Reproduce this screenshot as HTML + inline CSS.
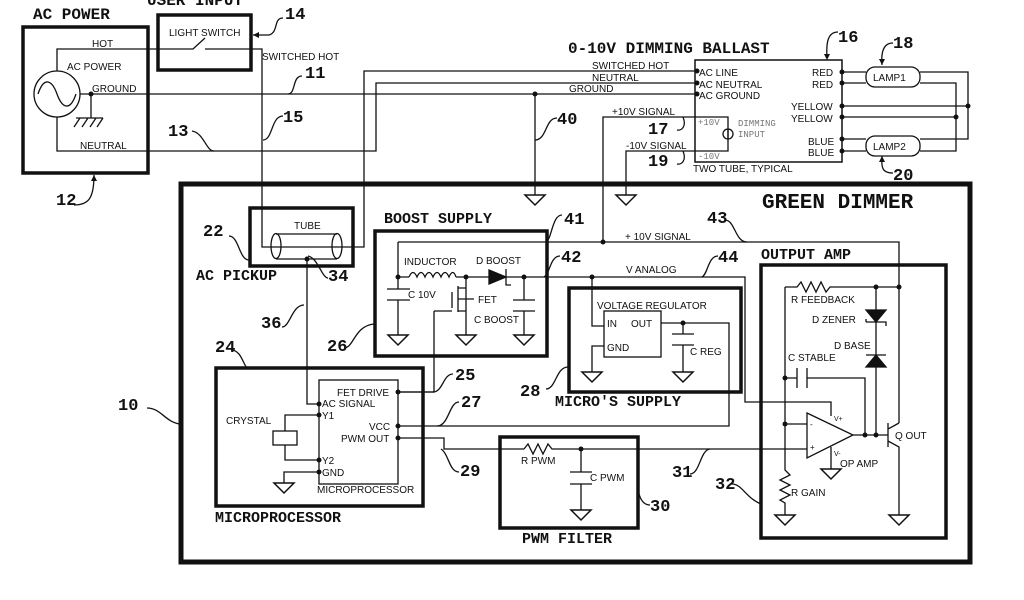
<!DOCTYPE html>
<html><head><meta charset="utf-8"><style>
html,body{margin:0;padding:0;background:#fff}
svg{display:block}
text{font-family:"Liberation Sans",sans-serif;font-size:10px;fill:#111}
.t{font-family:"Liberation Mono",monospace;font-weight:bold;font-size:16px}
.n{font-family:"Liberation Mono",monospace;font-weight:bold;font-size:17px}
.g{font-family:"Liberation Mono",monospace;font-size:9px;fill:#777}
</style></head><body>
<svg width="1024" height="600" viewBox="0 0 1024 600" xmlns="http://www.w3.org/2000/svg">
<defs>
<g id="gnd"><path d="M-10 0 H10 L0 10 Z" fill="#fff" stroke="#111" stroke-width="1.5"/></g>
</defs>
<g fill="none" stroke="#111" stroke-width="1.3">
<!-- boxes -->
<rect x="23" y="27" width="125" height="146" stroke-width="3.5"/>
<rect x="158" y="15" width="93" height="55" stroke-width="3.5"/>
<rect x="181" y="184" width="789" height="378" stroke-width="5"/>
<rect x="250" y="208" width="103" height="58" stroke-width="3.5"/>
<rect x="375" y="231" width="172" height="125" stroke-width="3.5"/>
<rect x="569" y="288" width="172" height="104" stroke-width="3.5"/>
<rect x="216" y="368" width="207" height="138" stroke-width="3.5"/>
<rect x="500" y="437" width="138" height="91" stroke-width="3.5"/>
<rect x="761" y="265" width="185" height="273" stroke-width="3.5"/>
<rect x="695" y="60" width="147" height="102" stroke-width="1.5"/>
<rect x="319" y="380" width="79" height="104"/>
<rect x="604" y="311" width="57" height="46"/>
<!-- AC source -->
<circle cx="57" cy="94" r="23"/>
<path d="M38 94 C44 76 52 80 57 94 C62 108 70 112 76 94"/>
<path d="M57 71 V49 H193 L205 38 M205 49 H262 V247 H364 V71 H697"/>
<path d="M57 117 V151 H376 V83 H697"/>
<path d="M80 94 H697"/>
<path d="M91 94 V118 M76 118 H103 M80 118 l-6 9 M88 118 l-6 9 M96 118 l-6 9 M103 118 l-6 9"/>
<path d="M535 94 V195"/>
<!-- ballast wires -->
<path d="M603 242 V117 H728 V151 H626 V195"/>
<circle cx="728" cy="134" r="5"/>
<path d="M728 129 v10"/>
<path d="M842 72 H866 M842 83 H866 M920 72 H968 V139 H920 M842 106 H968 M920 83 H956 V151 H920 M842 117 H956 M842 139 H866 M842 151 H866"/>
<rect x="866" y="67" width="54" height="20" rx="9"/>
<rect x="866" y="136" width="54" height="20" rx="9"/>
<!-- tube -->
<path d="M276 234 H337 M276 259 H337"/>
<ellipse cx="276" cy="246" rx="5" ry="12.5"/>
<ellipse cx="337" cy="246" rx="5" ry="12.5"/>
<path d="M307 259 V404 H319"/>
<!-- boost -->
<path d="M398 242 H899 V287"/>
<path d="M398 242 V289 M387 289 H410 M387 300 H410 M398 300 V335"/>
<path d="M398 277 H409 M456 277 H489 M506 277 H745 V402 H831 V416"/>
<path d="M409 277 q4 -9 8 0 q4 -9 8 0 q4 -9 8 0 q4 -9 8 0 q4 -9 8 0 q4 -9 7 0"/>
<path d="M489 270 L506 277 L489 284 Z" fill="#111"/>
<path d="M506 269 V285 H511"/>
<path d="M466 277 V335 M466 288 H458 M458 286 V312 M452 292 V308 M434 311 V392 H398 M434 311 H452 M458 299 H474 M466 311 H458"/>
<path d="M524 277 V300 M513 300 H535 M513 311 H535 M524 311 V335"/>
<!-- regulator -->
<path d="M592 277 V326 H604 M604 346 H592 V372 M661 323 H729 V426 H398 M683 323 V334 M672 334 H694 M672 345 H694 M683 345 V372"/>
<!-- micro -->
<path d="M398 392 H434 M319 415 H285 V431 M285 445 V460 H319 M319 472 H284 V493"/>
<rect x="273" y="431" width="24" height="14"/>
<path d="M398 438 H444 V449 H524 M524 449 l4 -5 l5 10 l5 -10 l5 10 l5 -10 l4 5 H807"/>
<path d="M581 449 V472 M570 472 H592 M570 484 H592 M581 484 V510"/>
<!-- output amp -->
<path d="M785 287 H797 l4 -5 l5 10 l5 -10 l5 10 l5 -10 l5 10 l4 -5 H899 V423"/>
<path d="M785 287 V470 l5 5 l-10 5 l10 5 l-10 5 l10 5 l-10 5 l5 3 V516"/>
<path d="M785 378 H797 M797 368 V388 M807 368 V388 M807 378 H865 V435"/>
<path d="M785 424 H807"/>
<path d="M807 413 L853 435 L807 458 Z" fill="#fff"/>
<path d="M831 447 V478 M853 435 H888 M888 423 V447 M888 429 L899 423 M888 441 L899 447 V516"/>
<path d="M876 287 V435"/>
<path d="M866 310 H886 L876 322 Z" fill="#111"/>
<path d="M866 322 H886 v4 M866 322 v-3"/>
<path d="M876 355 L886 367 H866 Z" fill="#111"/>
<path d="M866 355 H886"/>
<!-- leader curves -->
<path d="M283 18 c-10 0 -4 14 -14 17 H253" />
<path d="M302 76 c-10 0 -6 18 -14 18"/>
<path d="M192 131 c12 2 14 20 22 20"/>
<path d="M283 116 c-12 0 -10 24 -20 24"/>
<path d="M557 118 c-12 0 -10 22 -22 22"/>
<path d="M838 32 c-10 0 -12 10 -11 26"/>
<path d="M893 43 c-10 0 -12 10 -11 22"/>
<path d="M893 173 c-10 0 -12 -4 -11 -17"/>
<path d="M74 205 c14 0 20 -6 20 -30"/>
<path d="M683 117 c4 10 -2 14 -6 13"/>
<path d="M683 151 c4 10 -2 14 -6 13"/>
<path d="M147 408 c14 0 18 14 33 16"/>
<path d="M229 236 c10 0 10 24 20 24"/>
<path d="M328 278 c-6 0 -10 -20 -20 -22"/>
<path d="M282 327 c8 0 10 -22 22 -22"/>
<path d="M231 350 c10 0 12 14 16 18"/>
<path d="M344 348 c10 0 10 -22 30 -24"/>
<path d="M453 374 c-10 0 -10 18 -20 18"/>
<path d="M459 402 c-10 0 -10 24 -22 24"/>
<path d="M459 472 c-10 0 -10 -18 -18 -23"/>
<path d="M546 389 c10 0 10 -22 22 -22"/>
<path d="M650 505 c-10 0 -12 -14 -12 -18"/>
<path d="M690 474 c10 0 10 -24 20 -25"/>
<path d="M732 484 c10 0 14 14 29 20"/>
<path d="M562 215 c-10 0 -10 24 -16 27"/>
<path d="M560 256 c-10 0 -10 18 -16 21"/>
<path d="M725 220 c10 0 10 22 22 22"/>
<path d="M718 256 c-10 0 -10 18 -16 21"/>
</g>
<g fill="#111">
<circle cx="91" cy="94" r="2.5"/><circle cx="535" cy="94" r="2.5"/>
<circle cx="697" cy="71" r="2.5"/><circle cx="697" cy="83" r="2.5"/><circle cx="697" cy="94" r="2.5"/>
<circle cx="842" cy="72" r="2.5"/><circle cx="842" cy="83" r="2.5"/><circle cx="842" cy="106" r="2.5"/><circle cx="842" cy="117" r="2.5"/><circle cx="842" cy="139" r="2.5"/><circle cx="842" cy="151" r="2.5"/>
<circle cx="968" cy="106" r="2.5"/><circle cx="956" cy="117" r="2.5"/>
<circle cx="307" cy="259" r="2.5"/><circle cx="603" cy="242" r="2.5"/>
<circle cx="398" cy="277" r="2.5"/><circle cx="466" cy="277" r="2.5"/><circle cx="524" cy="277" r="2.5"/><circle cx="592" cy="277" r="2.5"/>
<circle cx="683" cy="323" r="2.5"/>
<circle cx="319" cy="404" r="2.5"/><circle cx="319" cy="415" r="2.5"/><circle cx="319" cy="460" r="2.5"/><circle cx="319" cy="472" r="2.5"/>
<circle cx="398" cy="392" r="2.5"/><circle cx="398" cy="426" r="2.5"/><circle cx="398" cy="438" r="2.5"/>
<circle cx="581" cy="449" r="2.5"/>
<circle cx="876" cy="287" r="2.5"/><circle cx="899" cy="287" r="2.5"/><circle cx="785" cy="378" r="2.5"/><circle cx="785" cy="424" r="2.5"/><circle cx="865" cy="435" r="2.5"/><circle cx="876" cy="435" r="2.5"/>
<path d="M253 35 l6 -3 v6 z"/><path d="M827 60 l-3 -6 h6 z"/><path d="M882 65 l-3 -6 h6 z"/><path d="M882 156 l-3 6 h6 z"/><path d="M94 175 l-3 6 h6 z"/>
</g>
<use href="#gnd" x="91" y="0" style="display:none"/>
<use href="#gnd" x="535" y="195"/><use href="#gnd" x="626" y="195"/>
<use href="#gnd" x="398" y="335"/><use href="#gnd" x="466" y="335"/><use href="#gnd" x="524" y="335"/>
<use href="#gnd" x="592" y="372"/><use href="#gnd" x="683" y="372"/>
<use href="#gnd" x="284" y="483"/><use href="#gnd" x="581" y="510"/>
<use href="#gnd" x="785" y="515"/><use href="#gnd" x="899" y="515"/><use href="#gnd" x="831" y="469"/>
<!-- titles -->
<text class="t" x="33" y="19">AC POWER</text>
<text class="t" x="147" y="5">USER INPUT</text>
<text class="t" x="568" y="53">0-10V DIMMING BALLAST</text>
<text class="t" x="762" y="208" style="font-size:21px">GREEN DIMMER</text>
<text class="t" x="196" y="280" style="font-size:15px">AC PICKUP</text>
<text class="t" x="384" y="223" style="font-size:15px">BOOST SUPPLY</text>
<text class="t" x="761" y="259" style="font-size:15px">OUTPUT AMP</text>
<text class="t" x="555" y="406" style="font-size:15px">MICRO'S SUPPLY</text>
<text class="t" x="215" y="522" style="font-size:15px">MICROPROCESSOR</text>
<text class="t" x="522" y="543" style="font-size:15px">PWM FILTER</text>
<!-- numbers -->
<text class="n" x="285" y="19">14</text><text class="n" x="305" y="78">11</text><text class="n" x="168" y="136">13</text>
<text class="n" x="283" y="122">15</text><text class="n" x="56" y="205">12</text><text class="n" x="557" y="124">40</text>
<text class="n" x="838" y="42">16</text><text class="n" x="893" y="48">18</text><text class="n" x="893" y="180">20</text>
<text class="n" x="648" y="134">17</text><text class="n" x="648" y="166">19</text>
<text class="n" x="118" y="410">10</text><text class="n" x="203" y="236">22</text><text class="n" x="328" y="281">34</text>
<text class="n" x="261" y="328">36</text><text class="n" x="215" y="352">24</text><text class="n" x="327" y="351">26</text>
<text class="n" x="455" y="380">25</text><text class="n" x="461" y="407">27</text><text class="n" x="460" y="476">29</text>
<text class="n" x="520" y="396">28</text><text class="n" x="650" y="511">30</text><text class="n" x="672" y="477">31</text>
<text class="n" x="715" y="489">32</text><text class="n" x="564" y="224">41</text><text class="n" x="561" y="262">42</text>
<text class="n" x="707" y="223">43</text><text class="n" x="718" y="262">44</text>
<!-- labels -->
<text x="92" y="47">HOT</text><text x="67" y="70">AC POWER</text><text x="92" y="92">GROUND</text><text x="80" y="149">NEUTRAL</text>
<text x="169" y="36">LIGHT SWITCH</text><text x="262" y="60">SWITCHED HOT</text>
<text x="592" y="69">SWITCHED HOT</text><text x="592" y="81">NEUTRAL</text><text x="569" y="92">GROUND</text>
<text x="612" y="115">+10V SIGNAL</text><text x="626" y="149">-10V SIGNAL</text>
<text x="699" y="76">AC LINE</text><text x="699" y="88">AC NEUTRAL</text><text x="699" y="99">AC GROUND</text>
<text x="812" y="76">RED</text><text x="812" y="88">RED</text><text x="791" y="110">YELLOW</text><text x="791" y="122">YELLOW</text>
<text x="808" y="145">BLUE</text><text x="808" y="156">BLUE</text><text x="693" y="172">TWO TUBE, TYPICAL</text>
<text class="g" x="698" y="125">+10V</text><text class="g" x="698" y="159">-10V</text><text class="g" x="738" y="126">DIMMING</text><text class="g" x="738" y="137">INPUT</text>
<text x="873" y="81">LAMP1</text><text x="873" y="150">LAMP2</text>
<text x="294" y="229">TUBE</text>
<text x="404" y="265">INDUCTOR</text><text x="476" y="264">D BOOST</text><text x="408" y="298">C 10V</text><text x="478" y="303">FET</text><text x="474" y="323">C BOOST</text>
<text x="625" y="240">+ 10V SIGNAL</text><text x="626" y="273">V ANALOG</text>
<text x="597" y="309">VOLTAGE REGULATOR</text><text x="607" y="327">IN</text><text x="631" y="327">OUT</text><text x="607" y="351">GND</text><text x="690" y="355">C REG</text>
<text x="337" y="396">FET DRIVE</text><text x="322" y="407">AC SIGNAL</text><text x="322" y="419">Y1</text><text x="369" y="430">VCC</text><text x="341" y="442">PWM OUT</text><text x="322" y="464">Y2</text><text x="322" y="476">GND</text><text x="317" y="493">MICROPROCESSOR</text>
<text x="226" y="424">CRYSTAL</text>
<text x="521" y="464">R PWM</text><text x="590" y="481">C PWM</text>
<text x="791" y="303">R FEEDBACK</text><text x="812" y="323">D ZENER</text><text x="834" y="349">D BASE</text><text x="788" y="361">C STABLE</text>
<text x="895" y="439">Q OUT</text><text x="840" y="467">OP AMP</text><text x="791" y="496">R GAIN</text>
<text x="834" y="421" style="font-size:7px">V+</text><text x="834" y="456" style="font-size:7px">V-</text>
<text x="810" y="427" style="font-size:8px">-</text><text x="810" y="450" style="font-size:8px">+</text>
</svg>
</body></html>
